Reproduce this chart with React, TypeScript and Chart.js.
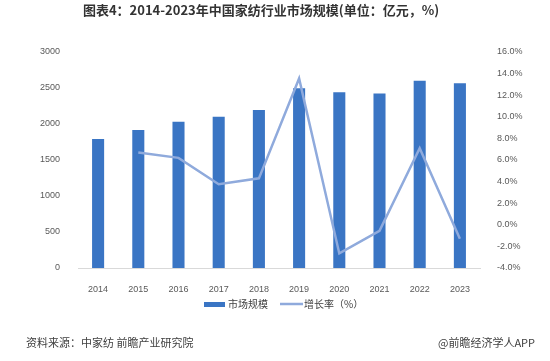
import React, { useEffect, useRef } from "react";
import { Chart, registerables } from "chart.js";

Chart.register(...registerables);

const years = ["2014", "2015", "2016", "2017", "2018", "2019", "2020", "2021", "2022", "2023"];
const marketSize = [1790, 1915, 2030, 2100, 2195, 2495, 2440, 2425, 2600, 2565];
const growthRate = [null, 6.7, 6.2, 3.75, 4.3, 13.55, -2.65, -0.55, 7.1, -1.3];
const titleText = "图表4：2014-2023年中国家纺行业市场规模(单位：亿元，%)";
const sourceText = "资料来源：中家纺 前瞻产业研究院";
const brandText = "@前瞻经济学人APP";
const barLabel = "市场规模";
const lineLabel = "增长率（%）";

const BAR_COLOR = "#3A75C4";
const LINE_COLOR = "#8FAADC";
const CJK = "'Noto Sans CJK SC', 'Liberation Sans', sans-serif";
const NUM = "'Liberation Sans', 'Noto Sans CJK SC', sans-serif";

const decorPlugin = {
  id: "decor",
  afterDraw(chart: any) {
    const ctx = chart.ctx;
    ctx.save();
    // title
    ctx.fillStyle = "#333333";
    ctx.font = `bold 13px ${CJK}`;
    ctx.textAlign = "center";
    ctx.textBaseline = "middle";
    ctx.fillText(titleText, 261, 10);
    // legend
    ctx.font = `10px ${CJK}`;
    ctx.textAlign = "left";
    ctx.fillStyle = BAR_COLOR;
    ctx.fillRect(204, 302, 21, 5);
    ctx.fillStyle = "#404040";
    ctx.fillText(barLabel, 228, 304);
    ctx.strokeStyle = LINE_COLOR;
    ctx.lineWidth = 2.5;
    ctx.beginPath();
    ctx.moveTo(280, 304);
    ctx.lineTo(303, 304);
    ctx.stroke();
    ctx.fillText(lineLabel, 304, 304);
    // footer
    ctx.font = `11px ${CJK}`;
    ctx.fillStyle = "#404040";
    ctx.textAlign = "left";
    ctx.fillText(sourceText, 26, 343);
    ctx.textAlign = "right";
    ctx.fillText(brandText, 535, 343);
    ctx.restore();
  },
};

export default function App() {
  const ref = useRef<HTMLCanvasElement>(null);
  useEffect(() => {
    if (!ref.current) return;
    const chart = new Chart(ref.current, {
      type: "bar",
      data: {
        labels: years,
        datasets: [
          {
            type: "bar",
            label: barLabel,
            data: marketSize,
            backgroundColor: BAR_COLOR,
            yAxisID: "y",
            categoryPercentage: 1,
            barPercentage: 0.3,
            order: 1,
          },
          {
            type: "line",
            label: lineLabel,
            data: growthRate as any,
            borderColor: LINE_COLOR,
            borderWidth: 2.5,
            pointRadius: 0,
            tension: 0,
            yAxisID: "y1",
            spanGaps: false,
            order: 0,
          },
        ],
      },
      options: {
        responsive: false,
        animation: false,
        layout: { padding: { top: 52, left: 0, right: 0, bottom: 0 } },
        plugins: {
          legend: { display: false },
          title: { display: false },
          tooltip: { enabled: false },
        },
        scales: {
          x: {
            grid: { display: false },
            border: { display: true, color: "#D9D9D9" },
            ticks: { color: "#595959", font: { size: 9, family: NUM }, padding: 8, maxRotation: 0 },
            afterFit: (s: any) => { s.height = 93; },
          },
          y: {
            position: "left",
            min: 0,
            max: 3000,
            grid: { display: false },
            border: { display: false },
            ticks: {
              stepSize: 500,
              color: "#595959",
              font: { size: 9, family: NUM },
              padding: 10,
              callback: (v: any) => String(v),
            },
            afterFit: (s: any) => { s.width = 78; },
          },
          y1: {
            position: "right",
            min: -4,
            max: 16,
            grid: { display: false },
            border: { display: false },
            ticks: {
              stepSize: 2,
              color: "#595959",
              font: { size: 9, family: NUM },
              padding: 9,
              callback: (v: any) => Number(v).toFixed(1) + "%",
            },
            afterFit: (s: any) => { s.width = 70; },
          },
        },
      },
      plugins: [decorPlugin],
    });
    return () => chart.destroy();
  }, []);
  return (
    <div style={{ position: "absolute", left: 0, top: 0, width: 550, height: 361, background: "#fff" }}>
      <canvas ref={ref} width={550} height={361} style={{ width: 550, height: 361 }} />
    </div>
  );
}
